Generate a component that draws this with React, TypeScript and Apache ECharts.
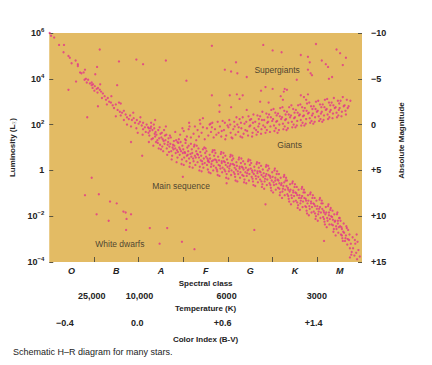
import React, { useEffect, useRef } from 'react';
import * as echarts from 'echarts';

// x: spectral subclass (O0 = 0 ... M9 = 69), y: absolute magnitude
const spectralClasses = ['O', 'B', 'A', 'F', 'G', 'K', 'M'];
const spectralLabelAt = [5, 15, 25, 35, 45, 55, 65];
const spectralTickAt = [10, 20, 30, 40, 50, 60];
const temperatureLabels = ['25,000', '10,000', '6000', '3000'];
const temperatureAt = [9.5, 20.2, 39.7, 59.9];
const colorIndexLabels = ['−0.4', '0.0', '+0.6', '+1.4'];
const colorIndexAt = [3.5, 19.7, 38.8, 59.2];

const regionNames = ['Supergiants', 'Giants', 'Main sequence', 'White dwarfs'];
const regionAt = [[51.0, -6.0], [53.8, 2.2], [29.5, 6.7], [15.8, 13.0]];

const mainSequenceUpper = [
  [0.1,-10.0],[0.4,-9.7],[1.1,-9.5],[2.2,-8.7],[3.3,-8.7],[3.2,-7.9],[4.3,-7.5],[4.6,-7.3],[5.0,-6.7],[5.9,-7.0],
  [6.4,-6.6],[6.4,-6.4],[6.9,-5.7],[7.2,-5.6],[8.0,-6.0],[7.7,-5.7],[8.2,-5.0],[7.9,-4.9],[8.4,-4.6],[8.7,-4.9],
  [9.1,-4.5],[9.5,-4.3],[9.7,-4.0],[9.5,-4.6],[9.8,-4.4],[10.2,-4.2],[10.6,-3.9],[10.1,-3.7],[10.9,-4.0],[11.3,-3.8],
  [11.6,-3.6],[10.8,-3.5],[12.0,-3.4],[12.4,-3.1],[11.8,-2.9],[12.7,-2.7],[13.1,-2.9],[13.4,-2.5],[13.8,-2.4],[12.9,-2.2],
  [14.2,-2.1],[14.5,-1.8],[14.9,-2.2],[15.6,-2.4],[16.0,-2.3],[15.3,-1.6],[15.8,-1.4],[16.3,-1.3],[16.7,-1.5],[17.1,-1.1],
  [16.0,-1.0],[17.4,-0.8],[17.8,-0.6],[18.1,-1.0],[18.5,-0.5],[18.9,-0.7],[19.2,-0.2],[19.6,-0.5],[20.0,-0.1],[20.3,-0.3],
  [20.7,0.1],[21.0,-0.2],[21.4,0.3],[21.8,0.0],[22.3,0.4],[22.8,0.2],[14.9,-0.9],[16.7,-0.5],[17.4,0.0],[18.3,0.2],
  [19.5,0.4],[21.0,0.5],[19.8,0.9],[20.9,1.1],[21.6,0.8],[18.8,-1.3],[20.4,-0.8],[13.9,-3.1],[11.4,-4.4]
];

const mainSequence = [
  [22.1,0.3],[22.4,1.2],[22.5,0.7],[22.8,-0.2],[22.9,1.6],[22.2,0.9],[22.7,0.4],[22.3,1.9],
  [23.1,0.6],[23.2,1.5],[23.4,0.0],[23.6,1.0],[23.9,1.9],[23.8,0.8],[23.3,2.3],[23.5,0.4],[23.7,1.3],
  [24.0,1.1],[24.3,2.0],[24.4,0.6],[24.6,1.5],[24.5,2.6],[24.9,1.0],[24.2,1.7],[24.8,2.2],[24.7,0.3],
  [25.1,1.4],[25.3,2.4],[25.2,0.9],[25.6,1.8],[25.5,2.9],[25.9,1.2],[25.8,2.1],[25.4,1.6],[25.7,0.6],[25.0,2.7],
  [26.0,1.7],[26.3,2.6],[26.2,1.1],[26.5,2.2],[26.8,3.0],[26.7,1.5],[26.4,3.3],[26.9,2.4],[26.6,1.9],
  [27.1,2.1],[27.3,2.9],[27.2,1.4],[27.6,2.5],[27.5,3.4],[27.9,1.8],[27.8,2.7],[27.4,3.8],[27.7,2.2],[27.0,1.2],
  [28.0,2.3],[28.3,3.1],[28.4,1.7],[28.6,2.8],[28.7,3.6],[28.9,2.0],[28.2,2.6],[28.8,3.0],[28.5,4.1],
  [29.1,2.5],[29.2,3.3],[29.4,1.9],[29.5,2.9],[29.7,3.8],[29.8,2.3],[29.9,3.1],[29.3,2.7],[29.6,4.3],[29.0,1.6],
  [30.0,2.7],[30.2,3.6],[30.5,2.0],[30.4,3.1],[30.7,4.0],[30.9,2.5],[30.3,3.0],[30.8,3.4],[30.6,1.7],[30.1,4.4],
  [31.1,2.9],[31.3,3.7],[31.2,2.3],[31.6,3.2],[31.5,4.2],[31.9,2.7],[31.8,3.5],[31.4,4.6],[31.7,2.1],[31.0,3.3],
  [32.0,3.1],[32.3,4.0],[32.4,2.4],[32.6,3.4],[32.7,4.4],[32.9,2.9],[32.2,3.7],[32.8,3.6],[32.5,2.2],[32.1,4.7],
  [33.1,3.2],[33.2,4.1],[33.4,2.6],[33.5,3.6],[33.7,4.6],[33.8,3.0],[33.9,3.9],[33.3,3.3],[33.6,5.0],[33.0,2.3],
  [34.0,3.4],[34.3,4.3],[34.4,2.7],[34.6,3.7],[34.5,4.7],[34.9,3.1],[34.2,4.0],[34.8,4.2],[34.7,2.5],[34.1,5.1],
  [35.1,3.5],[35.3,4.4],[35.2,2.9],[35.6,3.9],[35.5,4.9],[35.9,3.3],[35.8,4.1],[35.4,3.7],[35.7,5.2],[35.0,2.6],[35.5,4.0],
  [36.0,3.7],[36.2,4.6],[36.5,3.0],[36.4,4.0],[36.7,5.0],[36.9,3.4],[36.3,4.3],[36.8,4.5],[36.6,2.8],[36.1,5.3],[36.7,3.9],
  [37.1,3.8],[37.3,4.7],[37.2,3.1],[37.5,4.1],[37.6,5.1],[37.8,3.5],[37.9,4.4],[37.4,3.9],[37.7,5.5],[37.0,2.8],[37.5,4.9],
  [38.0,3.9],[38.3,4.8],[38.4,3.2],[38.6,4.2],[38.7,5.2],[38.9,3.6],[38.2,4.5],[38.8,4.7],[38.5,3.0],[38.1,5.6],[38.6,4.0],
  [39.1,4.0],[39.2,4.9],[39.4,3.4],[39.5,4.4],[39.7,5.4],[39.8,3.8],[39.9,4.6],[39.3,4.1],[39.6,5.8],[39.0,3.1],[39.4,5.1],
  [40.0,4.2],[40.2,5.1],[40.5,3.5],[40.4,4.5],[40.7,5.5],[40.9,3.9],[40.3,4.8],[40.8,5.0],[40.6,3.3],[40.1,5.9],[40.6,4.3],
  [41.1,4.3],[41.3,5.2],[41.2,3.7],[41.5,4.7],[41.6,5.7],[41.9,4.1],[41.8,4.9],[41.4,4.4],[41.7,6.1],[41.0,3.4],[41.5,5.4],
  [42.0,4.5],[42.3,5.4],[42.4,3.8],[42.6,4.8],[42.7,5.8],[42.9,4.2],[42.2,5.1],[42.8,5.2],[42.5,3.6],[42.1,6.2],[42.6,4.6],
  [43.1,4.6],[43.2,5.5],[43.4,4.0],[43.5,4.9],[43.7,6.0],[43.8,4.3],[43.9,5.2],[43.3,4.7],[43.6,6.3],[43.0,3.7],[43.5,5.6],
  [44.0,4.7],[44.2,5.6],[44.5,4.0],[44.4,5.0],[44.7,6.1],[44.9,4.4],[44.3,5.3],[44.8,5.4],[44.6,3.8],[44.1,6.4],[44.6,4.9],
  [45.1,4.8],[45.3,5.7],[45.2,4.2],[45.5,5.2],[45.6,6.2],[45.9,4.6],[45.8,5.4],[45.4,5.0],[45.7,6.6],[45.0,3.9],[45.5,5.9],
  [46.0,5.0],[46.3,5.9],[46.4,4.3],[46.6,5.3],[46.7,6.3],[46.9,4.7],[46.2,5.6],[46.8,5.7],[46.5,4.1],[46.1,6.7],[46.6,5.1],
  [47.1,5.1],[47.2,6.0],[47.4,4.5],[47.5,5.5],[47.7,6.5],[47.8,4.9],[47.9,5.7],[47.3,5.2],[47.6,6.8],[47.0,4.2],[47.5,6.2],
  [48.0,5.3],[48.2,6.2],[48.5,4.6],[48.4,5.6],[48.7,6.6],[48.9,5.0],[48.3,5.9],[48.8,6.0],[48.6,4.4],[48.1,7.0],[48.6,5.4],
  [49.1,5.5],[49.3,6.4],[49.2,4.8],[49.5,5.8],[49.6,6.9],[49.9,5.2],[49.8,6.1],[49.4,5.6],[49.7,7.2],[49.0,4.5],[49.5,6.6],
  [50.0,5.7],[50.3,6.6],[50.4,5.0],[50.6,6.1],[50.7,7.1],[50.9,5.4],[50.2,6.3],[50.8,6.5],[50.5,4.8],[50.1,7.4],[50.6,5.8],
  [51.1,6.0],[51.2,6.9],[51.4,5.4],[51.5,6.4],[51.7,7.4],[51.8,5.8],[51.9,6.6],[51.3,6.1],[51.6,7.7],[51.0,5.1],[51.5,7.0],
  [52.0,6.4],[52.2,7.3],[52.5,5.7],[52.4,6.7],[52.7,7.7],[52.9,6.1],[52.3,7.0],[52.8,7.1],[52.6,5.5],[52.1,8.0],[52.6,6.3],
  [53.1,6.7],[53.3,7.6],[53.2,6.1],[53.5,7.1],[53.6,8.1],[53.9,6.5],[53.8,7.3],[53.4,6.9],[53.7,8.4],[53.0,5.8],[53.5,7.8],
  [54.0,7.1],[54.3,8.0],[54.4,6.4],[54.6,7.4],[54.7,8.4],[54.9,6.8],[54.2,7.7],[54.8,7.8],[54.5,6.2],[54.1,8.7],[54.6,7.2],
  [55.1,7.4],[55.2,8.3],[55.4,6.8],[55.5,7.7],[55.7,8.8],[55.8,7.1],[55.9,8.0],[55.3,7.5],[55.6,9.1],[55.0,6.5],[55.5,8.5],
  [56.0,7.7],[56.2,8.6],[56.5,7.0],[56.4,8.0],[56.7,9.0],[56.9,7.4],[56.3,8.3],[56.8,8.4],[56.6,6.8],[56.1,9.3],[56.6,7.8],
  [57.1,8.0],[57.3,8.9],[57.2,7.4],[57.5,8.3],[57.6,9.4],[57.9,7.7],[57.8,8.6],[57.4,8.1],[57.7,9.7],[57.0,7.1],[57.5,9.0],
  [58.0,8.3],[58.3,9.2],[58.4,7.6],[58.6,8.6],[58.7,9.6],[58.9,8.0],[58.2,8.9],[58.8,9.0],[58.5,7.4],[58.1,9.9],[58.6,8.4],
  [59.1,8.6],[59.2,9.5],[59.4,8.0],[59.5,8.9],[59.7,10.0],[59.8,8.3],[59.9,9.2],[59.3,8.7],[59.6,10.3],[59.0,7.7],[59.5,9.7],
  [60.0,8.9],[60.2,9.8],[60.5,8.2],[60.4,9.2],[60.7,10.2],[60.9,8.6],[60.3,9.5],[60.8,9.6],[60.6,8.0],[60.1,10.5],[60.6,9.0],
  [61.1,9.2],[61.3,10.1],[61.2,8.6],[61.5,9.6],[61.6,10.6],[61.9,9.0],[61.8,9.8],[61.4,9.4],[61.7,10.9],[61.0,8.3],[61.5,10.3],
  [62.0,9.6],[62.3,10.5],[62.4,8.9],[62.6,9.9],[62.7,10.9],[62.9,9.3],[62.2,10.2],[62.8,10.3],[62.5,8.7],[62.1,11.2],[62.6,9.6],
  [63.1,10.0],[63.2,10.9],[63.4,9.4],[63.5,10.4],[63.7,11.4],[63.8,9.8],[63.9,10.6],[63.3,10.1],[63.6,11.7],[63.0,9.1],[63.5,11.0],
  [64.0,10.5],[64.3,11.4],[64.4,9.8],[64.6,10.8],[64.7,11.8],[64.9,10.2],[64.2,11.1],[64.8,11.2],[64.5,9.6],[64.1,12.1],[64.6,10.5],
  [65.1,11.1],[65.3,12.0],[65.2,10.5],[65.5,11.4],[65.6,12.4],[65.9,10.8],[65.8,11.7],[65.4,11.2],[65.7,12.7],[65.0,10.2],[65.5,12.1],
  [66.0,11.8],[66.2,12.7],[66.5,11.1],[66.4,12.1],[66.7,13.1],[66.9,11.5],[66.3,12.4],[66.8,12.5],[66.6,11.3],
  [67.1,12.6],[67.3,13.5],[67.2,12.0],[67.5,13.0],[67.7,13.9],[67.9,12.3],[67.6,14.2],
  [68.0,13.5],[68.3,14.3],[68.5,13.0],[68.7,14.0],[68.9,14.7],[68.4,12.6],
  [69.2,13.7],[69.5,14.4],[69.0,12.8]
];

const giants = [
  [28.2,0.8],[28.7,1.9],[29.3,1.1],[29.8,0.4],[30.4,1.6],[30.1,0.7],[30.8,1.3],[31.2,0.5],[31.7,1.4],
  [32.3,1.0],[32.6,0.2],[32.9,1.7],[33.2,0.6],[33.5,1.3],[33.8,-0.1],[34.1,0.9],[34.4,0.3],[34.8,1.6],
  [35.3,0.4],[35.6,1.2],[35.9,0.0],[36.2,0.8],[36.5,-0.2],[36.8,1.4],[36.4,0.3],
  [37.1,0.5],[37.4,1.1],[37.7,-0.3],[37.9,0.9],[38.2,0.2],[38.5,1.3],[38.8,-0.4],[38.6,0.7],
  [39.1,0.6],[39.3,-0.2],[39.6,1.2],[39.9,0.1],[39.4,1.6],[40.1,0.3],[40.3,-0.5],[40.6,0.9],[40.8,1.4],[40.5,0.0],
  [41.2,0.5],[41.4,-0.3],[41.7,1.1],[41.9,-0.8],[41.5,0.2],[41.0,1.5],
  [42.1,0.0],[42.3,0.8],[42.6,-0.6],[42.8,1.3],[42.4,0.3],[42.9,-0.2],
  [43.0,0.4],[43.3,-0.8],[43.5,1.0],[43.7,-0.1],[43.9,0.6],[43.2,1.4],
  [44.1,-0.3],[44.3,0.7],[44.6,-0.9],[44.8,0.2],[44.5,1.2],[44.9,-0.5],
  [45.0,0.1],[45.2,-0.6],[45.5,0.9],[45.7,-1.1],[45.9,0.4],[45.4,1.3],[45.6,-0.2],
  [46.1,-0.3],[46.3,0.6],[46.6,-1.0],[46.8,0.2],[46.4,1.1],[46.9,-0.6],[46.7,0.8],
  [47.0,-0.1],[47.2,-0.9],[47.5,0.5],[47.7,-1.4],[47.9,0.1],[47.4,1.0],[47.6,-0.5],
  [48.1,-0.5],[48.3,0.3],[48.6,-1.2],[48.8,-0.2],[48.4,0.9],[48.9,-0.8],[48.7,0.6],
  [49.0,-0.3],[49.2,-1.1],[49.5,0.2],[49.7,-1.6],[49.9,-0.4],[49.4,0.8],[49.6,-0.8],
  [50.1,-0.6],[50.3,0.1],[50.6,-1.3],[50.8,-0.3],[50.4,0.7],[50.9,-1.0],[50.7,0.4],[50.2,-1.7],
  [51.0,-0.4],[51.2,-1.2],[51.5,0.0],[51.7,-1.8],[51.9,-0.6],[51.4,0.6],[51.6,-0.9],[51.1,0.9],
  [52.1,-0.8],[52.3,-0.1],[52.6,-1.5],[52.8,-0.5],[52.4,0.5],[52.9,-1.1],[52.7,0.2],[52.2,-1.9],
  [53.0,-0.6],[53.2,-1.4],[53.5,-0.2],[53.7,-1.9],[53.9,-0.8],[53.4,0.4],[53.6,-1.1],[53.1,0.6],
  [54.1,-1.0],[54.3,-0.3],[54.6,-1.7],[54.8,-0.7],[54.4,0.3],[54.9,-1.3],[54.7,0.0],[54.2,-2.1],
  [55.0,-0.8],[55.2,-1.6],[55.5,-0.4],[55.7,-2.1],[55.9,-1.0],[55.4,0.1],[55.6,-1.3],[55.1,0.3],
  [56.1,-1.1],[56.3,-0.5],[56.6,-1.9],[56.8,-0.9],[56.4,0.1],[56.9,-1.5],[56.7,-0.2],[56.2,-2.2],
  [57.0,-1.0],[57.2,-1.8],[57.5,-0.6],[57.7,-2.3],[57.9,-1.2],[57.4,-0.1],[57.6,-1.5],[57.1,0.1],
  [58.1,-1.3],[58.3,-0.7],[58.6,-2.0],[58.8,-1.0],[58.4,-0.2],[58.9,-1.7],[58.7,-0.4],[58.2,-2.4],
  [59.0,-1.2],[59.2,-2.0],[59.5,-0.8],[59.7,-2.5],[59.9,-1.4],[59.4,-0.3],[59.6,-1.7],[59.1,-0.1],
  [60.1,-1.5],[60.3,-0.9],[60.6,-2.2],[60.8,-1.2],[60.4,-0.4],[60.9,-1.9],[60.7,-0.6],[60.2,-2.6],
  [61.0,-1.4],[61.2,-2.2],[61.5,-1.0],[61.7,-2.7],[61.9,-1.6],[61.4,-0.5],[61.6,-1.9],[61.1,-0.3],
  [62.1,-1.7],[62.3,-1.1],[62.6,-2.4],[62.8,-1.4],[62.4,-0.6],[62.9,-2.1],[62.7,-0.8],[62.2,-2.8],
  [63.0,-1.6],[63.2,-2.4],[63.5,-1.2],[63.7,-2.9],[63.9,-1.8],[63.4,-0.7],[63.6,-2.1],
  [64.1,-1.9],[64.3,-1.3],[64.6,-2.6],[64.8,-1.6],[64.4,-0.8],[64.9,-2.3],[64.7,-1.0],
  [65.0,-1.8],[65.2,-2.6],[65.5,-1.4],[65.7,-3.0],[65.9,-2.0],[65.4,-0.9],
  [66.1,-2.1],[66.3,-1.5],[66.6,-2.7],[66.8,-1.8],[66.4,-1.1],
  [67.0,-2.0],[67.4,-2.6]
];

const scatteredBright = [
  [6.0,-4.7],[10.3,-5.5],[10.7,-6.3],[11.3,-8.2],[4.3,-3.8],[15.2,-4.3],[8.5,-0.8],[10.9,-2.0],
  [15.6,-6.9],[19.5,-7.1],[21.0,-6.6],[26.1,-7.0],[30.7,-4.8],[36.4,-8.6],
  [41.8,-6.8],[39.3,-6.0],[40.7,-5.8],[42.1,-5.6],[44.2,-5.2],[36.4,-3.2],[40.4,-3.2],[42.0,-3.3],[43.3,-3.2],
  [42.6,-2.8],[38.1,-2.1],[40.7,-1.9],[44.2,-1.6],[38.1,-1.4],[34.4,-0.7],[33.7,-0.5],[31.3,-0.2],[36.1,-0.1],
  [23.7,-0.5],[26.1,0.2],[31.4,0.2],
  [59.7,-8.8],[64.3,-8.2],[65.1,-7.8],[66.4,-7.3],[65.7,-6.5],[50.0,-8.1],[47.9,-8.7],[52.0,-7.9],[56.3,-7.6],
  [57.9,-7.4],[58.3,-6.8],[61.0,-7.0],[61.9,-6.6],[62.4,-6.3],[57.9,-6.0],[58.5,-5.6],[58.8,-5.4],[55.4,-4.9],
  [62.6,-5.0],[63.3,-5.2],[48.4,-4.1],[50.0,-3.9],[47.4,-3.7],[52.7,-3.9],[53.2,-3.8],[52.5,-3.6],[56.3,-3.2],
  [57.9,-3.3],[57.0,-3.0],[57.5,-2.7],[52.3,-2.7],[49.1,-2.4],[47.2,-2.5],[51.8,-3.1]
];

const scatteredFaint = [
  [9.5,5.8],[8.0,7.7],[11.1,7.6],[13.6,8.4],[15.1,8.6],[16.6,9.5],[17.1,9.6],[18.3,9.8],[10.6,9.8],[17.3,10.3],
  [13.3,10.5],[17.2,11.5],[22.5,11.3],[26.4,11.3],[24.7,13.0],[29.7,12.8],[32.5,13.6],[18.3,1.9],[20.8,3.4],
  [29.9,5.7],[39.7,6.4],[45.9,11.5],[48.4,8.7],[61.5,12.7],[68.8,12.0],[67.3,14.5]
];

const FONT = '"Liberation Sans", Arial, Helvetica, sans-serif';
const INK = '#232323';
const TICK = '#5c5640';

function pick(labels: string[], at: number[], v: number): string {
  const i = at.findIndex((a) => Math.abs(a - v) < 0.01);
  return i >= 0 ? labels[i] : '';
}

export default function App() {
  const ref = useRef<HTMLDivElement>(null);
  useEffect(() => {
    if (!ref.current) return;
    const chart = echarts.init(ref.current, undefined, { renderer: 'svg' });
    const allPoints = [...mainSequenceUpper, ...mainSequence, ...giants, ...scatteredBright, ...scatteredFaint];
    const hiddenLine = { show: false, onZero: false };
    chart.setOption({
      animation: false,
      backgroundColor: '#ffffff',
      textStyle: { fontFamily: FONT },
      title: {
        text: 'Schematic H–R diagram for many stars.',
        left: 13,
        top: 347,
        padding: 0,
        textStyle: { fontSize: 9, fontWeight: 'normal', color: INK, fontFamily: FONT },
      },
      grid: {
        left: 38, right: 70, top: 33, bottom: 103,
        show: true, backgroundColor: '#E3BB64', borderWidth: 0,
      },
      xAxis: [
        {
          type: 'value', min: 0, max: 70, position: 'bottom',
          axisLine: hiddenLine, splitLine: { show: false },
          axisTick: { show: true, inside: true, length: 5, customValues: spectralTickAt, lineStyle: { color: TICK, width: 1 } },
          axisLabel: {
            customValues: spectralLabelAt, margin: 4,
            formatter: (v: number) => pick(spectralClasses, spectralLabelAt, v),
            fontStyle: 'italic', fontWeight: 'bold', fontSize: 9, color: INK, fontFamily: FONT,
          },
          name: 'Spectral class', nameLocation: 'middle', nameGap: 16,
          nameTextStyle: { fontSize: 8, fontWeight: 'bold', color: INK, fontFamily: FONT },
        },
        {
          type: 'value', min: 0, max: 70, position: 'bottom', offset: 25,
          axisLine: hiddenLine, splitLine: { show: false }, axisTick: { show: false },
          axisLabel: {
            customValues: temperatureAt, margin: 4,
            formatter: (v: number) => pick(temperatureLabels, temperatureAt, v),
            fontWeight: 'bold', fontSize: 9, color: INK, fontFamily: FONT,
          },
          name: 'Temperature (K)', nameLocation: 'middle', nameGap: 16,
          nameTextStyle: { fontSize: 8, fontWeight: 'bold', color: INK, fontFamily: FONT },
        },
        {
          type: 'value', min: 0, max: 70, position: 'bottom', offset: 52,
          axisLine: hiddenLine, splitLine: { show: false }, axisTick: { show: false },
          axisLabel: {
            customValues: colorIndexAt, margin: 4,
            formatter: (v: number) => pick(colorIndexLabels, colorIndexAt, v),
            fontWeight: 'bold', fontSize: 9, color: INK, fontFamily: FONT,
          },
          name: 'Color Index (B-V)', nameLocation: 'middle', nameGap: 21,
          nameTextStyle: { fontSize: 8, fontWeight: 'bold', color: INK, fontFamily: FONT },
        },
      ],
      yAxis: [
        {
          type: 'value', position: 'left', min: -4, max: 6, interval: 2,
          axisLine: hiddenLine, splitLine: { show: false },
          axisTick: { show: true, inside: true, length: 4, lineStyle: { color: TICK, width: 1 } },
          axisLabel: {
            margin: 5,
            formatter: (v: number) => (v === 0 ? '{b|1}' : `{b|10}{s|${v < 0 ? '−' + Math.abs(v) : v}}`),
            rich: {
              b: { fontSize: 9, fontWeight: 'bold', color: INK, fontFamily: FONT },
              s: { fontSize: 6, fontWeight: 'bold', color: INK, fontFamily: FONT, padding: [0, 0, 6, 0] },
            },
          },
          name: '{a|Luminosity (L}{u|☉}{a|)}', nameLocation: 'middle', nameGap: 19, nameRotate: 90,
          nameTextStyle: {
            rich: {
              a: { fontSize: 8, fontWeight: 'bold', color: INK, fontFamily: FONT },
              u: { fontSize: 5, color: INK, fontFamily: FONT, padding: [4, 0, 0, 0] },
            },
          },
        },
        {
          type: 'value', position: 'right', min: -10, max: 15, interval: 5, inverse: true,
          axisLine: hiddenLine, splitLine: { show: false },
          axisTick: { show: true, inside: true, length: 4, lineStyle: { color: TICK, width: 1 } },
          axisLabel: {
            margin: 9,
            formatter: (v: number) => (v < 0 ? '−' + Math.abs(v) : v > 0 ? '+' + v : '0'),
            fontSize: 9, fontWeight: 'bold', color: INK, fontFamily: FONT,
          },
          name: 'Absolute Magnitude', nameLocation: 'middle', nameGap: 30, nameRotate: 90,
          nameTextStyle: { fontSize: 8, fontWeight: 'bold', color: INK, fontFamily: FONT, padding: [0, 0, 0, 14] },
        },
      ],
      series: [
        {
          type: 'scatter', xAxisIndex: 0, yAxisIndex: 1,
          data: allPoints, symbol: 'circle', symbolSize: 2.3,
          itemStyle: { color: '#E2348A' }, silent: true,
        },
        {
          type: 'scatter', xAxisIndex: 0, yAxisIndex: 1, silent: true,
          symbolSize: 0,
          data: regionNames.map((n, i) => ({ name: n, value: regionAt[i] })),
          label: {
            show: true, position: 'inside', formatter: '{b}',
            fontSize: 8.5, color: INK, fontFamily: FONT,
          },
        },
      ],
    });
    return () => chart.dispose();
  }, []);
  return (
    <div
      ref={ref}
      style={{ position: 'fixed', left: 0, top: 0, width: 432, height: 365, background: '#fff' }}
    />
  );
}
